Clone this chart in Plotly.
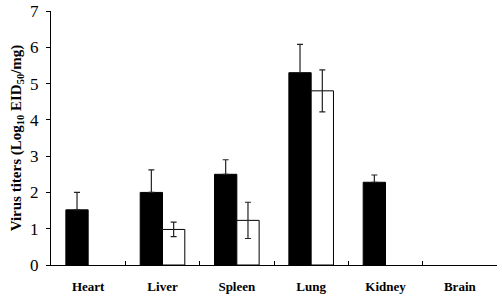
import plotly.graph_objects as go

categories = ["Heart", "Liver", "Spleen", "Lung", "Kidney", "Brain"]
black_vals = [1.52, 2.0, 2.5, 5.3, 2.28, None]
black_err = [0.48, 0.62, 0.4, 0.78, 0.2, 0]
white_vals = [None, 0.98, 1.23, 4.8, None, None]
white_err = [0, 0.2, 0.5, 0.58, 0, 0]
y_ticks = [0, 1, 2, 3, 4, 5, 6, 7]

font_fam = "Liberation Serif, Times New Roman, serif"

fig = go.Figure()
fig.add_trace(go.Bar(
    x=categories, y=black_vals,
    marker=dict(color="black", line=dict(color="black", width=1)),
    error_y=dict(type="data", array=black_err, arrayminus=[0]*6, color="#222", thickness=1.2, width=3),
))
fig.add_trace(go.Bar(
    x=categories, y=white_vals,
    marker=dict(color="white", line=dict(color="black", width=1)),
    error_y=dict(type="data", array=white_err, color="#222", thickness=1.2, width=3),
))
fig.update_layout(
    width=502, height=300,
    margin=dict(l=51, r=5, t=11, b=35),
    plot_bgcolor="white", paper_bgcolor="white",
    showlegend=False,
    barmode="group", bargap=0.4, bargroupgap=0,
    font=dict(family=font_fam, color="black"),
)
fig.update_xaxes(
    showline=True, linecolor="black", linewidth=1,
    ticks="inside", ticklen=4, tickcolor="black", tickson="boundaries",
    tickfont=dict(family=font_fam, size=13, weight="bold"),
    ticklabelstandoff=9,
    showgrid=False, automargin=False,
)
fig.update_yaxes(
    range=[0, 7], tickvals=y_ticks,
    showline=True, linecolor="black", linewidth=1,
    ticks="outside", ticklen=4, tickcolor="black",
    tickfont=dict(family=font_fam, size=17),
    ticklabelstandoff=4, ticklabeloverflow="allow",
    showgrid=False, zeroline=False, automargin=False,
    title=dict(text="<b>Virus titers (Log<sub>10</sub> EID<sub>50</sub>/mg)</b>",
               font=dict(family=font_fam, size=15), standoff=4),
)
fig.write_html("out.html", config={"displayModeBar": False},
               post_script="document.body.style.margin='0';")
